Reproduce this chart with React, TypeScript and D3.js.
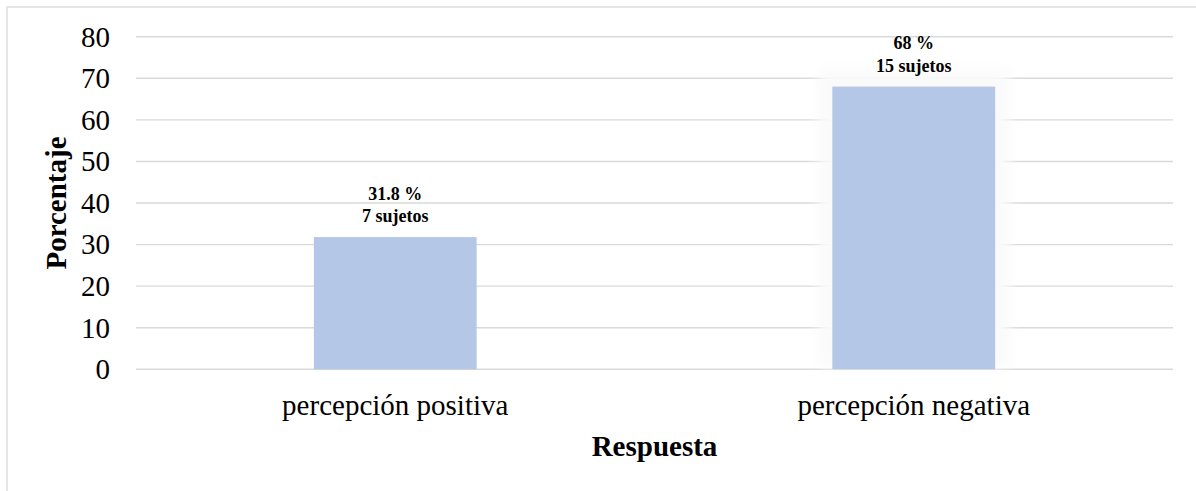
import React from "react";
import * as d3 from "d3";

const categories = ["percepción positiva", "percepción negativa"];
const percentages = [31.8, 68];
const percentLabels = ["31.8 %", "68 %"];
const subjects = [7, 15];
const yTicks = [0, 10, 20, 30, 40, 50, 60, 70, 80];

const W = 1196;
const H = 491;
const FONT = "'Liberation Serif', 'Times New Roman', serif";

export default function App() {
  const x = d3
    .scaleBand<string>()
    .domain(categories)
    .range([136, 1173])
    .paddingInner(0.686)
    .paddingOuter(0.343);
  const y = d3.scaleLinear().domain([0, 80]).range([369.3, 36.7]);

  return (
    <svg
      width={W}
      height={H}
      style={{ position: "absolute", left: 0, top: 0, background: "#fff" }}
    >
      <defs>
        <filter id="glow" x="-50%" y="-50%" width="200%" height="200%">
          <feGaussianBlur stdDeviation="7" />
        </filter>
      </defs>
      <rect x={0} y={0} width={W} height={H} fill="#fff" />
      <rect
        x={7}
        y={7}
        width={W + 20}
        height={H + 20}
        fill="none"
        stroke="#d9d9d9"
        strokeWidth={1.3}
      />
      {yTicks.map((t) => (
        <g key={t}>
          <line
            x1={136}
            x2={1173}
            y1={y(t)}
            y2={y(t)}
            stroke="#d9d9d9"
            strokeWidth={1.4}
          />
          <text
            x={110}
            y={y(t)}
            dy="0.34em"
            textAnchor="end"
            fontFamily={FONT}
            fontSize={29}
            fill="#000"
          >
            {t}
          </text>
        </g>
      ))}
      {/* faint glow behind second bar */}
      <rect
        x={(x(categories[1]) as number) - 14}
        y={y(percentages[1]) - 18}
        width={x.bandwidth() + 28}
        height={y(0) - y(percentages[1]) + 16}
        fill="#fafafa"
        filter="url(#glow)"
      />
      {categories.map((c, i) => {
        const bx = x(c) as number;
        const cx = bx + x.bandwidth() / 2;
        const top = y(percentages[i]);
        return (
          <g key={c}>
            <rect
              x={bx}
              y={top}
              width={x.bandwidth()}
              height={y(0) - top}
              fill="#b4c7e7"
            />
            <text
              x={cx}
              y={top - 37.5}
              textAnchor="middle"
              fontFamily={FONT}
              fontWeight="bold"
              fontSize={18}
              fill="#000"
            >
              {percentLabels[i]}
            </text>
            <text
              x={cx}
              y={top - 15}
              textAnchor="middle"
              fontFamily={FONT}
              fontWeight="bold"
              fontSize={18}
              fill="#000"
            >
              {`${subjects[i]} sujetos`}
            </text>
            <text
              x={cx}
              y={415}
              textAnchor="middle"
              fontFamily={FONT}
              fontSize={29}
              fill="#000"
            >
              {c}
            </text>
          </g>
        );
      })}
      <text
        x={654.5}
        y={456}
        textAnchor="middle"
        fontFamily={FONT}
        fontWeight="bold"
        fontSize={29}
        fill="#000"
      >
        Respuesta
      </text>
      <text
        transform={`translate(65.9, ${(y(0) + y(80)) / 2}) rotate(-90)`}
        textAnchor="middle"
        fontFamily={FONT}
        fontWeight="bold"
        fontSize={29}
        fill="#000"
      >
        Porcentaje
      </text>
    </svg>
  );
}
